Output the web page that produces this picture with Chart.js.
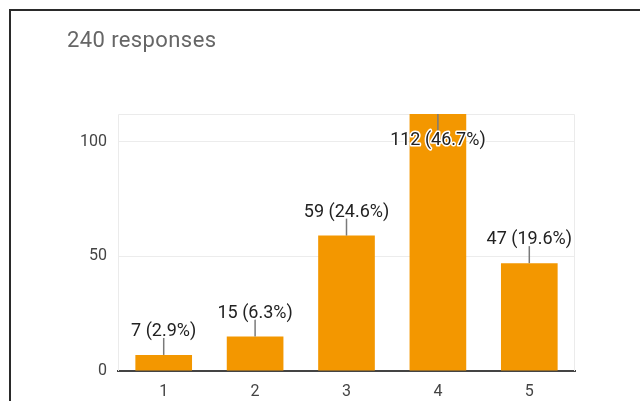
<!DOCTYPE html>
<html>
<head>
<meta charset="utf-8">
<script src="https://cdn.jsdelivr.net/npm/chart.js@4"></script>
<style>
  body { margin: 0; background: #fff; }
  #wrap { position: relative; width: 640px; height: 401px; overflow: hidden; }
  #chart { position: absolute; left: 0; top: 0; }
  #card {
    position: absolute; left: 9px; top: 9px; width: 700px; height: 500px;
    border-top: 2px solid #2a2a2a; border-left: 2px solid #2a2a2a;
    pointer-events: none;
  }
  #count {
    position: absolute; left: 67px; top: 29px;
    font: 22px/22px Roboto, sans-serif; color: #666; letter-spacing: 0.4px;
  }
</style>
</head>
<body>
<div id="wrap">
  <canvas id="chart" width="640" height="401"></canvas>
  <div id="card"></div>
  <div id="count">240 responses</div>
</div>
<script>
  var ratings = ["1", "2", "3", "4", "5"];
  var counts = [7, 15, 59, 112, 47];
  var percents = ["2.9", "6.3", "24.6", "46.7", "19.6"];
  var yTicks = [0, 50, 100];

  // light frame around the plot area
  var plotFrame = {
    id: 'plotFrame',
    beforeDatasetsDraw: function(chart) {
      var a = chart.chartArea, c = chart.ctx;
      c.save();
      c.strokeStyle = '#ebebeb';
      c.lineWidth = 1;
      c.beginPath();
      c.moveTo(a.left + 0.5, a.bottom);
      c.lineTo(a.left + 0.5, a.top + 0.5);
      c.lineTo(a.right - 0.5, a.top + 0.5);
      c.lineTo(a.right - 0.5, a.bottom);
      c.stroke();
      c.restore();
    }
  };

  // "count (pct%)" callouts with a short leader line
  var callouts = {
    id: 'callouts',
    afterDatasetsDraw: function(chart) {
      var c = chart.ctx, a = chart.chartArea;
      var bars = chart.getDatasetMeta(0).data;
      c.save();
      c.font = '18px Roboto, sans-serif';
      c.textAlign = 'center';
      bars.forEach(function(bar, i) {
        var text = counts[i] + ' (' + percents[i] + '%)';
        var lead = 17;
        var inside = bar.y - lead - 16 < a.top;
        var y2 = inside ? bar.y + lead : bar.y - lead;
        c.strokeStyle = '#7a7a7a';
        c.lineWidth = 1.5;
        c.beginPath();
        c.moveTo(bar.x, bar.y);
        c.lineTo(bar.x, y2);
        c.stroke();
        var ty = inside ? y2 + 14 : y2 - 2;
        c.textBaseline = 'alphabetic';
        c.lineWidth = 3;
        c.strokeStyle = '#fff';
        c.lineJoin = 'round';
        c.strokeText(text, bar.x, ty);
        c.fillStyle = '#222';
        c.fillText(text, bar.x, ty);
      });
      c.restore();
    }
  };

  var ctx = document.getElementById('chart').getContext('2d');

  var chart = new Chart(ctx, {
    type: 'bar',
    data: {
      labels: ratings,
      datasets: [{
        data: counts,
        backgroundColor: '#f39700',
        borderWidth: 0,
        barPercentage: 0.62,
        categoryPercentage: 1
      }]
    },
    options: {
      responsive: false,
      animation: false,
      layout: { padding: { top: 114, right: 65, bottom: 0, left: 0 } },
      plugins: { legend: { display: false }, tooltip: { enabled: false } },
      scales: {
        x: {
          grid: { display: false },
          border: { color: '#444', width: 2 },
          ticks: { color: '#444', padding: 3, font: { family: 'Roboto', size: 16 } },
          afterFit: function(s) { s.height = 30; }
        },
        y: {
          min: 0,
          max: Math.max.apply(null, counts),
          afterBuildTicks: function(s) {
            s.ticks = yTicks.map(function(v) { return { value: v }; });
          },
          grid: { color: '#ececec', drawTicks: false },
          border: { display: false },
          ticks: { color: '#444', padding: 11, font: { family: 'Roboto', size: 16 } },
          afterFit: function(s) { s.width = 118; }
        }
      }
    },
    plugins: [plotFrame, callouts]
  });
</script>
</body>
</html>
